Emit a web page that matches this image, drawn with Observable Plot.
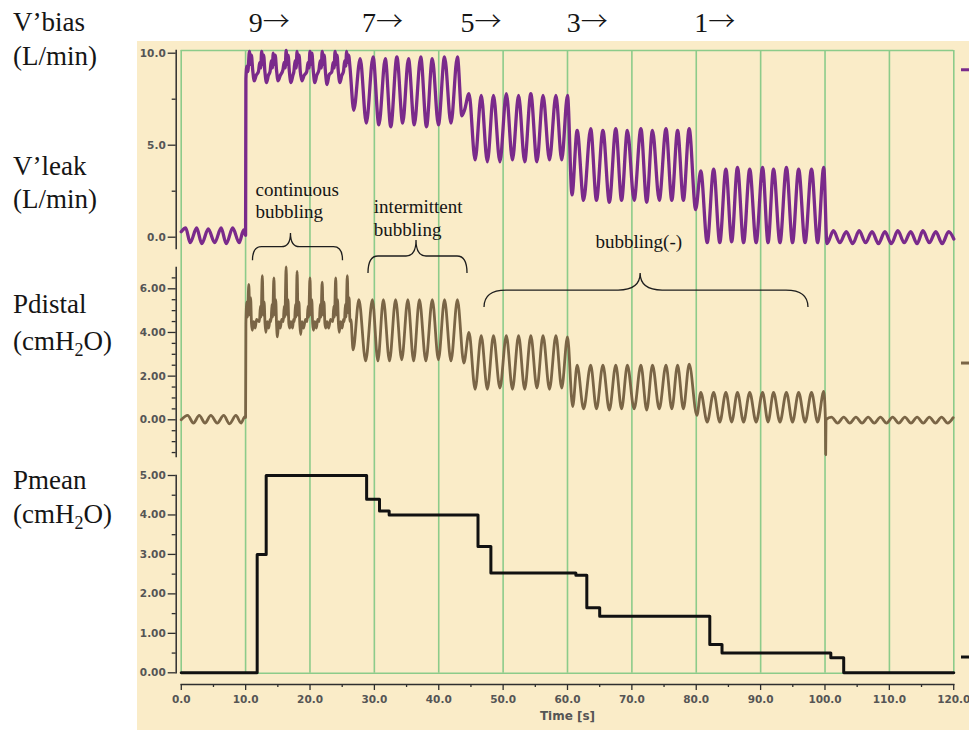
<!DOCTYPE html>
<html><head><meta charset="utf-8">
<script src="https://cdn.jsdelivr.net/npm/d3@7"></script>
<script src="https://cdn.jsdelivr.net/npm/@observablehq/plot@0.6"></script>
<style>
body{margin:0;background:#fff;}
#fig{position:relative;width:969px;height:730px;overflow:hidden;background:#fff;}
#bg{position:absolute;left:137px;top:41px;width:832px;height:689px;background:#faecc8;}
.lab{position:absolute;left:13px;font-family:"Liberation Serif",serif;font-size:27px;line-height:27px;color:#151515;white-space:nowrap;}
.lab sub{font-size:18px;vertical-align:-6px;line-height:0;}
#fig svg g[aria-label$="tick label"]{font-weight:bold;}
</style></head>
<body><div id="fig"><div id="bg"></div>
<div class="lab" style="top:9px">V’bias</div>
<div class="lab" style="top:43px">(L/min)</div>
<div class="lab" style="top:152.5px">V’leak</div>
<div class="lab" style="top:186px">(L/min)</div>
<div class="lab" style="top:291px">Pdistal</div>
<div class="lab" style="top:328px">(cmH<sub>2</sub>O)</div>
<div class="lab" style="top:467px">Pmean</div>
<div class="lab" style="top:501px">(cmH<sub>2</sub>O)</div>
</div>
<script>
// ---------- data ----------
const timeTicks = [0,10,20,30,40,50,60,70,80,90,100,110,120];
const timeMinor = [5,15,25,35,45,55,65,75,85,95,105,115];
const leakTicks = [0,5,10];
const leakMinor = [2.5,7.5];
const pdTicks = [0,2,4,6];
const pdMinor = [-1.5,-1,-0.5,0.5,1,1.5,2.5,3,3.5,4.5,5,5.5,6.5];
const pmTicks = [0,1,2,3,4,5];
const pmMinor = [0.5,1.5,2.5,3.5,4.5];

const biasLabels = ["9→","7→","5→","3→","1→"];
const biasLabelT = [10.5,28.1,43.4,59.9,79.7];

// V'leak (L/min), [time s, value]
const leakOff1 = [[0,0.3],[0.7,0.5],[1.4,-0.3],[2.4,0.5],[3.2,-0.35],[4.2,0.45],[5.2,-0.3],[6.2,0.5],[7.0,-0.35],[8.0,0.5],[9.0,-0.3],[9.7,0.4],[10.0,0.1]];
const leakBias9 = [[10.05,8.6],[10.2,9.3],[10.35,9.0],[10.6,10.1],[10.75,9.4],[10.9,9.9],[11.1,9.1],[11.35,8.5],[11.65,8.8],
[12.0,9.0],[12.2,9.5],[12.35,9.2],[12.5,10.1],[12.65,9.4],[12.8,9.9],[13.0,9.0],[13.25,8.4],[13.55,8.8],
[13.8,9.0],[14.0,9.6],[14.15,9.2],[14.3,10.0],[14.45,9.4],[14.6,9.9],[14.8,9.1],[15.05,8.5],[15.4,8.8],
[15.8,9.1],[16.0,9.5],[16.15,9.2],[16.3,10.15],[16.45,9.4],[16.6,9.9],[16.8,9.0],[17.05,8.4],[17.35,8.8],
[17.5,9.0],[17.7,9.6],[17.85,9.2],[18.0,10.1],[18.15,9.5],[18.3,9.9],[18.5,9.0],[18.75,8.5],[19.1,8.8],
[19.5,9.0],[19.7,9.5],[19.85,9.2],[20.0,10.1],[20.15,9.4],[20.3,10.0],[20.5,9.1],[20.75,8.4],[21.05,8.8],
[21.4,9.1],[21.6,9.6],[21.75,9.2],[21.9,10.1],[22.05,9.4],[22.2,9.9],[22.4,9.0],[22.65,8.3],[22.95,8.8],
[23.4,9.0],[23.6,9.5],[23.75,9.2],[23.9,10.1],[24.05,9.4],[24.2,9.9],[24.4,9.0],[24.65,8.4],[24.95,8.8],
[25.2,9.0],[25.4,9.6],[25.55,9.3],[25.7,10.1],[25.85,9.5],[26.0,9.9],[26.2,9.3]];
const leakBias7 = [[26.8,6.9],[27.8,9.7],[28.75,6.2],[29.8,9.8],[30.7,6.1],[31.7,9.7],[32.55,6.0],[33.5,9.8],[34.4,6.2],[35.3,9.7],[36.2,6.1],[37.2,9.8],[38.1,6.0],[39.0,9.7],[39.95,6.1],[40.9,9.8],[41.9,6.2],[42.9,9.8]];
const leakBias5 = [[43.6,6.6],[44.0,6.9],[44.7,7.8],[45.65,4.2],[46.6,7.7],[47.55,4.1],[48.5,7.7],[49.5,4.1],[50.5,7.8],[51.45,4.2],[52.4,7.7],[53.35,4.1],[54.3,7.8],[55.25,4.1],[56.2,7.7],[57.2,4.2],[58.2,7.7],[59.1,4.2],[60.0,7.7]];
const leakBias3 = [[60.7,2.3],[61.5,5.8],[62.5,2.0],[63.6,5.9],[64.5,2.0],[65.5,5.8],[66.5,1.9],[67.5,5.9],[68.4,2.0],[69.3,5.8],[70.35,2.0],[71.4,5.9],[72.3,1.9],[73.2,5.8],[74.25,2.0],[75.3,5.9],[76.2,2.0],[77.1,5.8],[78.0,2.0],[78.9,5.9],[79.9,1.5]];
const leakBias1 = [[80.7,3.6],[81.7,-0.3],[82.7,3.7],[83.65,-0.3],[84.6,3.7],[85.5,-0.25],[86.4,3.8],[87.35,-0.3],[88.3,3.7],[89.3,-0.3],[90.3,3.8],[91.15,-0.3],[92.0,3.7],[93.0,-0.3],[94.0,3.8],[94.95,-0.3],[95.9,3.7],[96.9,-0.3],[97.9,3.7],[98.85,-0.3],[99.8,3.8]];
const leakOff2 = [[100.3,-0.35],[101.3,0.35],[102.3,-0.3],[103.3,0.3],[104.3,-0.35],[105.3,0.35],[106.3,-0.3],[107.3,0.3],[108.3,-0.35],[109.3,0.3],[110.3,-0.35],[111.3,0.35],[112.3,-0.3],[113.3,0.3],[114.3,-0.35],[115.2,0.35],[116.2,-0.3],[117.2,0.3],[118.2,-0.35],[119.2,0.3],[120.0,-0.1]];

// Pdistal (cmH2O), [time s, value]
const pdOff1 = [[0,0.0],[1.0,0.2],[1.9,-0.15],[2.8,0.2],[3.7,-0.15],[4.6,0.2],[5.6,-0.15],[6.6,0.2],[7.5,-0.18],[8.5,0.2],[9.3,-0.15],[9.9,0.15],[10.0,0.1]];
const pdBias9 = [[10.05,4.4],[10.2,5.4],[10.3,4.7],[10.5,6.2],[10.65,4.8],[10.78,5.6],[10.92,4.4],[11.05,4.1],[11.25,4.5],[11.5,4.2],[11.7,4.6],
[12.15,4.5],[12.3,5.2],[12.4,4.7],[12.6,6.6],[12.75,4.8],[12.88,5.4],[13.02,4.4],[13.15,4.0],[13.35,4.5],[13.6,4.2],[13.8,4.6],
[13.95,4.5],[14.1,5.3],[14.2,4.7],[14.4,6.5],[14.55,4.8],[14.68,5.5],[14.82,4.3],[14.95,3.8],[15.15,4.5],[15.4,4.2],[15.6,4.6],
[15.85,4.5],[16.0,5.2],[16.1,4.7],[16.3,7.0],[16.45,4.8],[16.58,5.5],[16.72,4.4],[16.85,4.2],[17.05,4.5],[17.3,4.2],[17.45,4.6],
[17.6,4.5],[17.75,5.3],[17.85,4.7],[18.0,6.8],[18.15,4.8],[18.28,5.4],[18.42,4.4],[18.55,3.9],[18.75,4.5],[19.0,4.2],[19.3,4.6],
[19.55,4.5],[19.7,5.2],[19.8,4.7],[20.0,6.5],[20.15,4.8],[20.28,5.5],[20.42,4.4],[20.55,4.1],[20.75,4.5],[21.0,4.2],[21.2,4.6],
[21.45,4.5],[21.6,5.3],[21.7,4.7],[21.9,6.3],[22.05,4.8],[22.18,5.4],[22.32,4.4],[22.45,4.2],[22.65,4.5],[22.9,4.2],[23.2,4.6],
[23.55,4.5],[23.7,5.2],[23.8,4.7],[24.0,6.5],[24.15,4.8],[24.28,5.5],[24.42,4.4],[24.55,4.0],[24.75,4.5],[25.0,4.2],[25.2,4.6],
[25.35,4.5],[25.5,5.3],[25.6,4.7],[25.8,6.6],[25.95,4.9],[26.08,5.6],[26.22,4.5],[26.35,4.6]];
const pdBias7 = [[26.7,3.2],[27.6,5.5],[28.65,2.7],[29.7,5.5],[30.55,2.7],[31.4,5.5],[32.35,2.7],[33.3,5.5],[34.25,2.75],[35.2,5.5],[36.1,2.7],[37.0,5.5],[38.0,2.7],[39.0,5.5],[39.95,2.75],[40.9,5.5],[41.9,2.7],[42.9,5.5]];
const pdBias5 = [[43.9,2.6],[44.7,4.0],[45.65,1.4],[46.6,3.85],[47.55,1.4],[48.5,3.85],[49.5,1.45],[50.5,3.85],[51.45,1.4],[52.4,3.85],[53.35,1.4],[54.3,3.85],[55.25,1.45],[56.2,3.85],[57.2,1.4],[58.2,3.85],[59.1,1.45],[60.0,3.8]];
const pdBias3 = [[60.8,0.6],[61.5,2.5],[62.5,0.5],[63.6,2.5],[64.5,0.5],[65.5,2.5],[66.5,0.45],[67.5,2.5],[68.4,0.5],[69.3,2.5],[70.35,0.5],[71.4,2.5],[72.3,0.45],[73.2,2.5],[74.25,0.5],[75.3,2.5],[76.2,0.5],[77.1,2.5],[78.0,0.5],[78.9,2.55]];
const pdBias1 = [[80.1,0.2],[80.7,1.25],[81.7,-0.1],[82.7,1.25],[83.65,-0.1],[84.6,1.25],[85.5,-0.1],[86.4,1.25],[87.35,-0.1],[88.3,1.25],[89.3,-0.1],[90.3,1.25],[91.15,-0.1],[92.0,1.25],[93.0,-0.1],[94.0,1.25],[94.95,-0.1],[95.9,1.25],[96.9,-0.1],[97.9,1.25],[98.85,-0.1],[99.8,1.3],[100.05,0.1],[100.1,-1.6],[100.15,0.0]];
const pdOff2 = [[101.0,0.12],[101.95,-0.15],[102.9,0.12],[103.85,-0.15],[104.8,0.12],[105.75,-0.15],[106.7,0.12],[107.65,-0.15],[108.6,0.12],[109.55,-0.15],[110.5,0.12],[111.45,-0.15],[112.4,0.12],[113.35,-0.15],[114.3,0.12],[115.25,-0.15],[116.2,0.12],[117.15,-0.15],[118.1,0.12],[119.05,-0.15],[119.9,0.1]];

// Pmean (cmH2O) step levels
const pmeanT = [0,11.8,13.2,28.8,30.8,32.3,46.1,48.1,61.3,63.0,65.0,82.1,84.0,100.9,102.9,120];
const pmeanV = [0,3.0,5.0,4.4,4.1,4.0,3.2,2.53,2.47,1.65,1.43,0.72,0.5,0.38,0,0];

// cursor markers at right edge
const cursorLeak = [9.1], cursorPd = [2.6], cursorPm = [0.4];

// annotations (in Pdistal units)
const annoText = ["continuous\nbubbling","intermittent\nbubbling","bubbling(-)"];
const annoT = [11.54,29.92,64.35];
const annoY = [10.08,9.27,8.185];
const braceT1 = [11.15,29.09,47.11];
const braceT2 = [25.13,44.47,97.43];
const braceTm = [17.05,36.55,71.36];
const braceEnd = [7.29,6.70,5.14];
const braceMid = [7.905,7.48,5.92];
const bracePeak = [8.533,8.21,6.70];
const braceR = [9,10,22];

// ---------- build ----------
const fig = document.getElementById("fig");
const PURPLE = "#7a2a8b", BROWN = "#7a6546", GREEN = "#8ccb8a", INK = "#2e2e2e", TXT = "#555";
const W = 832;
const pts = arr => arr.map(([t, v]) => ({t, v}));
const leakData = pts([...leakOff1, ...leakBias9, ...leakBias7, ...leakBias5, ...leakBias3, ...leakBias1, ...leakOff2]);
const pdData = pts([...pdOff1, ...pdBias9, ...pdBias7, ...pdBias5, ...pdBias3, ...pdBias1, ...pdOff2]);
const pmData = pmeanT.map((t, i) => ({t, v: pmeanV[i]}));

function place(svg, top) {
  svg.style.position = "absolute";
  svg.style.left = "137px";
  svg.style.top = top + "px";
  fig.appendChild(svg);
}
const baseStyle = {background: "transparent", overflow: "visible", fontFamily: "DejaVu Sans"};
const axisText = {fontSize: 10.5, fontWeight: "bold", fill: TXT, stroke: INK, strokeWidth: 1.3, label: null};

// linear map helper: two reference ticks (value, pixel) -> domain of a pixel span
function spanDomain(v0, p0, v1, p1, topPx, botPx) {
  const k = (v1 - v0) / (p1 - p0);
  return [v0 + (botPx - p0) * k, v0 + (topPx - p0) * k];
}

// grid
place(Plot.plot({
  width: W, height: 622.8, marginLeft: 43.7, marginRight: 15.7, marginTop: 0, marginBottom: 0,
  x: {domain: [0, 120], axis: null}, y: {domain: [0, 1], axis: null},
  style: baseStyle,
  marks: [
    Plot.ruleX(timeTicks, {stroke: GREEN, strokeWidth: 1.6}),
    Plot.ruleY([0, 1], {x1: 0, x2: 120, stroke: GREEN, strokeWidth: 1.6})
  ]
}), 49.5);

function panel({top, bottom, domain, ticks, minor, fmt, data, color, sw, cursor, curve}) {
  return Plot.plot({
    width: W, height: bottom - top, marginLeft: 38.7, marginRight: 15.7, marginTop: 0, marginBottom: 0,
    x: {domain: [0, 120], insetLeft: 5, axis: null, label: null},
    y: {domain, label: null},
    style: baseStyle,
    marks: [
      Plot.frame({anchor: "left", stroke: INK, strokeWidth: 1.5}),
      Plot.axisY(ticks, {...axisText, tickFormat: d3.format(fmt), tickSize: 8, tickPadding: 2.5}),
      Plot.axisY(minor, {stroke: INK, strokeWidth: 1.3, fill: "none", tickSize: 4, label: null}),
      Plot.line(data, {x: "t", y: "v", stroke: color, strokeWidth: sw, curve}),
      Plot.ruleY(cursor, {x1: 121.2, x2: 122.6, stroke: color, strokeWidth: 3})
    ]
  });
}

place(panel({top: 50, bottom: 248, domain: spanDomain(0, 236.7, 10, 52.7, 50, 248), ticks: leakTicks, minor: leakMinor, fmt: ".1f", data: leakData, color: PURPLE, sw: 3.3, cursor: cursorLeak, curve: "monotone-x"}), 50);
place(panel({top: 267, bottom: 456, domain: spanDomain(0, 419.3, 6, 288.3, 267, 456), ticks: pdTicks, minor: pdMinor, fmt: ".2f", data: pdData, color: BROWN, sw: 2.8, cursor: cursorPd, curve: "monotone-x"}), 267);
place(panel({top: 475, bottom: 672.3, domain: [0, 5], ticks: pmTicks, minor: pmMinor, fmt: ".2f", data: pmData, color: "#111", sw: 3, cursor: cursorPm, curve: "step-after"}), 475);

// x axis
place(Plot.plot({
  width: W, height: 57.7, marginLeft: 43.7, marginRight: 15.7, marginTop: 12, marginBottom: 45.7,
  x: {domain: [0, 120], label: null},
  style: baseStyle,
  marks: [
    Plot.frame({anchor: "bottom", stroke: INK, strokeWidth: 1.5}),
    Plot.axisX(timeTicks, {...axisText, tickFormat: d3.format(".1f"), tickSize: 6, tickPadding: 5.5}),
    Plot.axisX(timeMinor, {stroke: INK, strokeWidth: 1.3, fill: "none", tickSize: 3, label: null}),
    Plot.text(["Time [s]"], {text: d => d, x: 60, frameAnchor: "bottom", dy: 35.7, fontSize: 12, fontWeight: "bold", fill: TXT})
  ]
}), 672.3);

// top bias labels: digit (serif) + arrow (full-width glyph)
place(Plot.plot({
  width: W, height: 41, marginLeft: 43.7, marginRight: 15.7, marginTop: 0, marginBottom: 0,
  x: {domain: [0, 120], axis: null},
  style: {...baseStyle, fontFamily: "Liberation Serif"},
  marks: [
    Plot.text(biasLabels, {text: d => d.slice(0, 1), x: (d, i) => biasLabelT[i], frameAnchor: "middle", textAnchor: "start", dy: 2, fontSize: 28, fontFamily: "Liberation Serif", fill: "#151515"}),
    Plot.text(biasLabels, {text: d => d.slice(1), x: (d, i) => biasLabelT[i], frameAnchor: "middle", textAnchor: "start", dx: 14, dy: 1, fontSize: 27, fontFamily: "Noto Sans CJK JP", fontWeight: 300, fill: "#151515"})
  ]
}), 0);

// annotations (braces + text), y in Pdistal units
const braces = braceT1.map((t1, i) => ({t1, t2: braceT2[i], tm: braceTm[i], yEnd: braceEnd[i], yMid: braceMid[i], yPeak: bracePeak[i], r: braceR[i]}));
function braceMark(index, scales) {
  const sx = typeof scales.x === "function" ? scales.x : v => scales.scales.x.apply(v);
  const sy = typeof scales.y === "function" ? scales.y : v => scales.scales.y.apply(v);
  const g = d3.create("svg:g");
  for (const b of braces) {
    const x1 = sx(b.t1), x2 = sx(b.t2), xm = sx(b.tm);
    const ye = sy(b.yEnd), yh = sy(b.yMid), yp = sy(b.yPeak), r = b.r;
    const p = d3.path();
    p.moveTo(x1, ye);
    p.quadraticCurveTo(x1, yh, x1 + r, yh);
    p.lineTo(xm - r, yh);
    p.quadraticCurveTo(xm, yh, xm, yp);
    p.quadraticCurveTo(xm, yh, xm + r, yh);
    p.lineTo(x2 - r, yh);
    p.quadraticCurveTo(x2, yh, x2, ye);
    g.append("path").attr("d", p.toString()).attr("fill", "none").attr("stroke", "#1e1e1e").attr("stroke-width", 1.3);
  }
  return g.node();
}
place(Plot.plot({
  width: W, height: 170, marginLeft: 43.7, marginRight: 15.7, marginTop: 0, marginBottom: 0,
  x: {domain: [0, 120], axis: null}, y: {domain: spanDomain(0, 419.3, 6, 288.3, 150, 320), axis: null},
  style: {...baseStyle, fontFamily: "Liberation Serif"},
  marks: [
    Plot.text(annoText, {text: d => d, x: (d, i) => annoT[i], y: (d, i) => annoY[i], textAnchor: "start", lineAnchor: "middle", lineHeight: 1.19, fontSize: 19, fontFamily: "Liberation Serif", fill: "#151515"}),
    braceMark
  ]
}), 150);
</script></body></html>
